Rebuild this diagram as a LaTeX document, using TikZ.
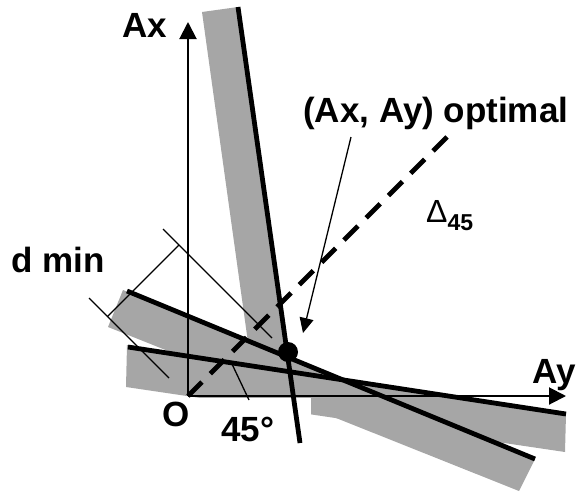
\documentclass[tikz,border=0pt]{standalone}
\usepackage{fontspec}
\setmainfont{Liberation Sans}
\usetikzlibrary{arrows.meta}
\definecolor{bandgray}{RGB}{166,166,166}
\begin{document}
\begin{tikzpicture}[x=1pt,y=-1pt,
  bandfill/.style={fill=bandgray,draw=none},
  thickline/.style={line width=4.8pt},
  thinline/.style={line width=1.3pt},
  axisline/.style={line width=2pt,-{Triangle[length=17pt,width=17pt]}},
  dashline/.style={line width=4.8pt,dash pattern=on 19.8pt off 11.7pt},
  lbl/.style={font=\fontsize{35}{40}\selectfont\bfseries,inner sep=0pt,anchor=base west},
]
\useasboundingbox (0,0) rectangle (578,491);
% key points
\coordinate (O) at (188,396);
\coordinate (AxTip) at (188,22);
\coordinate (AyTip) at (566,396);
\coordinate (L1a) at (238,7);
\coordinate (L1b) at (300,443);
\coordinate (L2a) at (127,291);
\coordinate (L2b) at (535,459);
\coordinate (L3a) at (128,347);
\coordinate (L3b) at (566,414);
\coordinate (D45) at (447,137);
% bands
\fill[bandfill] (202,12) -- (L1a) -- (289,360) -- (251,364) -- cycle;
\fill[bandfill] (123,290) -- (L2b) -- (519,491) -- (108,327) -- cycle;
\fill[bandfill] (127,345) -- (L3b) -- (565,452) -- (126,387) -- cycle;
\fill[white] (189.5,398) rectangle (311,475);
% axes
\draw[axisline] (O) -- (AxTip);
\draw[axisline] (O) -- (AyTip);
% d min construction
\coordinate (Aa) at (163,229);
\coordinate (Ab) at (272,338);
\coordinate (Ba) at (89,298);
\coordinate (Bb) at (169,378);
\coordinate (Ca) at (179,245);
\coordinate (Cb) at (107.5,316.5);
\draw[thinline] (Aa) -- (Ab);
\draw[thinline] (Ba) -- (Bb);
\draw[thinline] (Ca) -- (Cb);
% 45 degree leader
\coordinate (Ga) at (232,364);
\coordinate (Gb) at (249,400);
\draw[thinline] (Ga) -- (Gb);
% dashed diagonal
\draw[dashline] (O) -- (D45);
% thick lines
\draw[thickline] (L1a) -- (L1b);
\draw[thickline] (L2a) -- (L2b);
\draw[thickline] (L3a) -- (L3b);
% optimal point
\node[circle,fill=black,minimum size=20pt,inner sep=0pt] (P) at (288,352) {};
% labels
\node[lbl] (ax) at (122,37) {Ax};
\node[lbl] (ay) at (532,383) {Ay};
\node[lbl] (o) at (162,426) {O};
\node[lbl] (ang) at (221,441) {45°};
\node[lbl] (dmin) at (11,272) {d min};
\node[lbl] (opt) at (303,122) {(Ax, Ay) optimal};
\node[inner sep=0pt,anchor=base west] (delta) at (426,222)
  {\fontsize{32}{36}\selectfont\char"0394\raisebox{-8pt}{\fontsize{23}{27}\selectfont\bfseries 45}};
% arrow to optimum
\coordinate (OptFrom) at (351,137);
\coordinate (OptTip) at (303,333);
\draw[thinline,-{Triangle[length=15pt,width=14pt]}] (OptFrom) -- (OptTip);
\end{tikzpicture}
\end{document}
